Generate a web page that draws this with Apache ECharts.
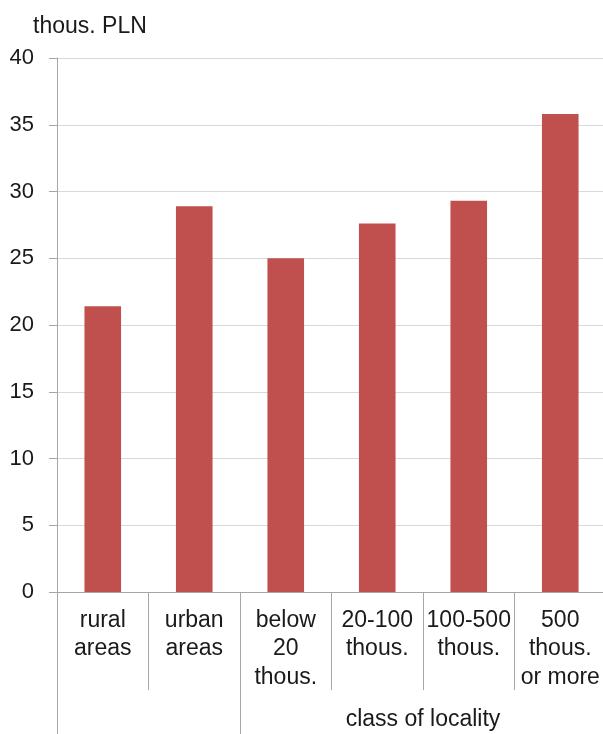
<!DOCTYPE html>
<html>
<head>
<meta charset="utf-8">
<script src="https://cdn.jsdelivr.net/npm/echarts@6/dist/echarts.min.js"></script>
<style>
html,body{margin:0;padding:0;background:#fff;overflow:hidden;}
#chart{width:612px;height:734px;}
</style>
</head>
<body>
<div id="chart"></div>
<script>
var categories = ['rural\nareas', 'urban\nareas', 'below\n20\nthous.', '20-100\nthous.', '100-500\nthous.', '500\nthous.\nor more'];
var values = [21.4, 28.9, 25.0, 27.6, 29.3, 35.8];
var groupLabels = ['', '', '', '', 'class of locality', '', ''];
var groupBoundaries = [0, 2];
var yTicks = { min: 0, max: 40, interval: 5 };
var unitLabel = 'thous. PLN';

var FONT = '"Liberation Sans", Arial, sans-serif';
var chart = echarts.init(document.getElementById('chart'), null, { renderer: 'canvas' });
chart.setOption({
  animation: false,
  backgroundColor: '#ffffff',
  title: {
    text: unitLabel,
    left: 28, top: 10,
    textStyle: { fontFamily: FONT, fontSize: 23, fontWeight: 'normal', color: '#1a1a1a' }
  },
  grid: { left: 57, top: 58, width: 549, height: 534, containLabel: false },
  xAxis: [
    {
      type: 'category',
      data: categories,
      position: 'bottom',
      axisLine: { show: true, lineStyle: { color: '#a6a6a6', width: 1 } },
      axisTick: { show: true, interval: 0, length: 98, lineStyle: { color: '#a6a6a6', width: 1 } },
      axisLabel: { interval: 0, margin: 14, fontFamily: FONT, fontSize: 23, lineHeight: 28.5, color: '#1a1a1a' },
      splitLine: { show: false }
    },
    {
      type: 'category',
      data: groupLabels,
      position: 'bottom',
      boundaryGap: false,
      axisLine: { show: false },
      axisTick: {
        show: true, length: 150,
        interval: function (idx) { return groupBoundaries.indexOf(idx) >= 0; },
        lineStyle: { color: '#a6a6a6', width: 1 }
      },
      axisLabel: { interval: 0, margin: 114, fontFamily: FONT, fontSize: 23, lineHeight: 28, color: '#1a1a1a' },
      splitLine: { show: false }
    }
  ],
  yAxis: {
    type: 'value',
    min: yTicks.min, max: yTicks.max, interval: yTicks.interval,
    axisLine: { show: true, lineStyle: { color: '#a6a6a6', width: 1 } },
    axisTick: { show: true, length: 8, lineStyle: { color: '#a6a6a6', width: 1 } },
    axisLabel: { margin: 23, fontFamily: FONT, fontSize: 22, color: '#1a1a1a' },
    splitLine: { show: true, lineStyle: { color: '#d9d9d9', width: 1 } }
  },
  series: [{
    type: 'bar',
    xAxisIndex: 0,
    data: values,
    barWidth: '40%',
    itemStyle: { color: '#c0504d' }
  }]
});
</script>
</body>
</html>
